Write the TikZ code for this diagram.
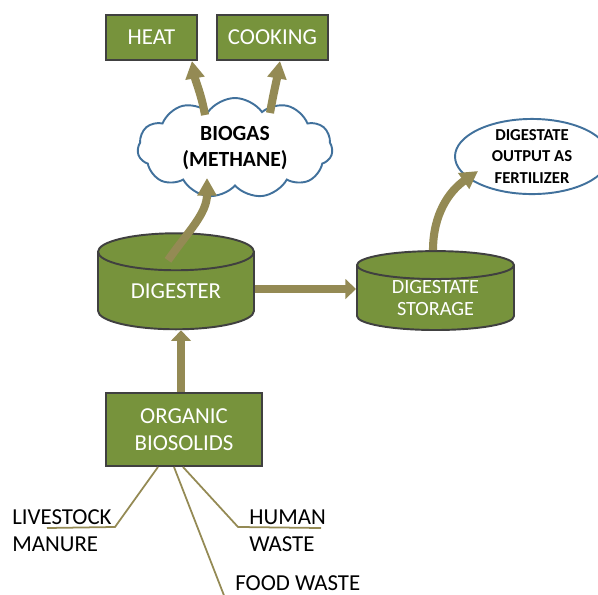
\documentclass[tikz,border=0pt]{standalone}
\usepackage{fontspec}
\setmainfont{Carlito}
\usetikzlibrary{shapes.geometric,shapes.symbols,arrows.meta,calc}
\definecolor{boxgreen}{HTML}{77933C}
\definecolor{boxline}{HTML}{404040}
\definecolor{olivepipe}{HTML}{948A54}
\definecolor{cloudblue}{HTML}{41719C}

\begin{document}
\begin{tikzpicture}[
    box/.style={draw=boxline,line width=1.1pt,fill=boxgreen,text=white,
        font={\fontsize{13}{15.3}\selectfont},align=center,inner sep=0pt},
    tank/.style={cylinder,shape border rotate=90,draw=boxline,line width=1.1pt,
        fill=boxgreen,text=white,align=center,inner sep=0pt},
    pipe/.style={line width=5pt,draw=olivepipe,-{Triangle[width=11pt,length=6pt]}},
    bentpipe/.style={line width=4.6pt,draw=olivepipe,-{Triangle[width=10.5pt,length=10pt]}},
    feed/.style={draw=olivepipe,line width=1pt},
    srctext/.style={inner sep=0pt,align=left,font={\fontsize{13}{15.3}\selectfont}}]
\useasboundingbox (0,0) rectangle (11.96,-11.88);
% products
\node[box,minimum width=1.82cm,minimum height=0.9cm] (heat) at (3.03,-0.75) {HEAT};
\node[box,minimum width=2.22cm,minimum height=0.9cm] (cooking) at (5.45,-0.75) {COOKING};
\node[cloud,cloud puffs=11,cloud puff arc=110,cloud ignores aspect,draw=cloudblue,line width=1.1pt,
    minimum width=3.9cm,minimum height=2cm,inner sep=0pt,align=center,
    font={\bfseries\fontsize{12.3}{15.3}\selectfont}] (biogas) at (4.7,-2.96) {BIOGAS\\(METHANE)};
% tanks
\node[tank,minimum width=3.12cm,minimum height=1.92cm,aspect=0.41,
    font={\fontsize{13}{15.3}\selectfont}] (digester) at (3.52,-5.82) {DIGESTER};
\node[tank,minimum width=3.14cm,minimum height=1.5cm,aspect=0.32,
    font={\fontsize{11.5}{13}\selectfont}] (storage) at (8.71,-5.96) {DIGESTATE\\STORAGE};
\node[ellipse,draw=cloudblue,line width=1.1pt,fill=white,minimum width=3.08cm,minimum height=1.5cm,
    inner sep=0pt,align=center,font={\bfseries\fontsize{9.5}{12}\selectfont}] (fert) at (10.64,-3.13)
    {DIGESTATE\\OUTPUT AS\\FERTILIZER};
% input
\node[box,minimum width=3.12cm,minimum height=1.46cm] (organic) at (3.68,-8.59) {ORGANIC\\BIOSOLIDS};
\node[srctext,anchor=west] (livestock) at (0.24,-10.62) {LIVESTOCK\\MANURE};
\node[srctext,anchor=west] (human) at (4.98,-10.62) {HUMAN\\WASTE};
\node[srctext,anchor=west] (food) at (4.7,-11.66) {FOOD WASTE};

\draw[feed] ([xshift=-0.52cm]organic.south) -- ++(-0.86,-1.2) -- ($(livestock.west)+(0.7,0.06)$);
\draw[feed] ([xshift=-0.2cm]organic.south) -- ($(food.west)+(-0.2,-0.3)$);
\draw[feed] ([xshift=-0.02cm]organic.south) -- ++(1.1,-1.2) -- ($(human.west)+(1.44,0.06)$);

\draw[pipe] ([xshift=-0.06cm]organic.north) -- ([xshift=-0.06cm]organic.north |- digester.south);
\coordinate (digout) at ([yshift=0.04cm]digester.east);
\draw[pipe] (digout) -- (digout -| storage.west);
\coordinate (digtop) at ($(digester.north)+(-0.16,-0.56)$);
\draw[bentpipe] (digtop) to[out=55,in=-90] ($(biogas.center)+(-0.56,-0.6)$);
\draw[bentpipe] ($(biogas.center)+(-0.6,0.66)$) to[out=100,in=-80] ([xshift=-0.12cm]heat.south east);
\draw[bentpipe] ($(biogas.center)+(0.7,0.7)$) to[out=80,in=-100] ([xshift=0.15cm]cooking.south);
\draw[bentpipe] ([xshift=-0.05cm]storage.north) to[out=90,in=215] ($(fert.center)+(-1.08,-0.29)$);
\end{tikzpicture}
\end{document}
